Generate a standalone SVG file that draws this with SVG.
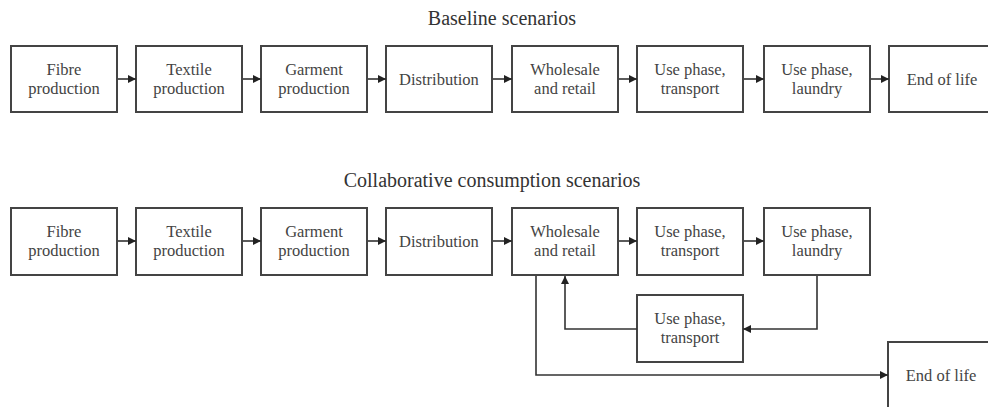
<svg xmlns="http://www.w3.org/2000/svg" width="988" height="407" viewBox="0 0 988 407">
<style>
.box{fill:#fff;stroke:#444;stroke-width:2}
.t{font-family:"Liberation Serif","Times New Roman",serif;font-size:16.5px;fill:#444;text-anchor:middle}
.title{font-family:"Liberation Serif","Times New Roman",serif;font-size:20px;fill:#333;text-anchor:middle}
.c{fill:none;stroke:#333;stroke-width:1.6}
</style>
<defs>
<marker id="ah" markerUnits="userSpaceOnUse" markerWidth="9" markerHeight="8" refX="8" refY="4" orient="auto">
<path d="M0,0 L8,4 L0,8 Z" fill="#222"/>
</marker>
</defs>
<rect width="988" height="407" fill="#fff"/>
<text class="title" x="502" y="25">Baseline scenarios</text>
<text class="title" x="492" y="187">Collaborative consumption scenarios</text>

<g id="b-fibre"><rect class="box" x="11" y="46" width="106" height="66"/><text class="t" x="64" y="75">Fibre</text><text class="t" x="64" y="94">production</text></g>
<g id="b-textile"><rect class="box" x="136" y="46" width="106" height="66"/><text class="t" x="189" y="75">Textile</text><text class="t" x="189" y="94">production</text></g>
<g id="b-garment"><rect class="box" x="261" y="46" width="106" height="66"/><text class="t" x="314" y="75">Garment</text><text class="t" x="314" y="94">production</text></g>
<g id="b-distribution"><rect class="box" x="386" y="46" width="106" height="66"/><text class="t" x="439" y="85">Distribution</text></g>
<g id="b-wholesale"><rect class="box" x="512" y="46" width="106" height="66"/><text class="t" x="565" y="75">Wholesale</text><text class="t" x="565" y="94">and retail</text></g>
<g id="b-transport"><rect class="box" x="637" y="46" width="106" height="66"/><text class="t" x="690" y="75">Use phase,</text><text class="t" x="690" y="94">transport</text></g>
<g id="b-laundry"><rect class="box" x="764" y="46" width="106" height="66"/><text class="t" x="817" y="75">Use phase,</text><text class="t" x="817" y="94">laundry</text></g>
<g id="b-eol"><rect class="box" x="889" y="46" width="106" height="66"/><text class="t" x="942" y="85">End of life</text></g>

<g id="c-fibre"><rect class="box" x="11" y="208" width="106" height="67"/><text class="t" x="64" y="237">Fibre</text><text class="t" x="64" y="256">production</text></g>
<g id="c-textile"><rect class="box" x="136" y="208" width="106" height="67"/><text class="t" x="189" y="237">Textile</text><text class="t" x="189" y="256">production</text></g>
<g id="c-garment"><rect class="box" x="261" y="208" width="106" height="67"/><text class="t" x="314" y="237">Garment</text><text class="t" x="314" y="256">production</text></g>
<g id="c-distribution"><rect class="box" x="386" y="208" width="106" height="67"/><text class="t" x="439" y="247">Distribution</text></g>
<g id="c-wholesale"><rect class="box" x="512" y="208" width="106" height="67"/><text class="t" x="565" y="237">Wholesale</text><text class="t" x="565" y="256">and retail</text></g>
<g id="c-transport"><rect class="box" x="637" y="208" width="106" height="67"/><text class="t" x="690" y="237">Use phase,</text><text class="t" x="690" y="256">transport</text></g>
<g id="c-laundry"><rect class="box" x="764" y="208" width="106" height="67"/><text class="t" x="817" y="237">Use phase,</text><text class="t" x="817" y="256">laundry</text></g>
<g id="c-transport2"><rect class="box" x="637" y="295" width="106" height="67"/><text class="t" x="690" y="324">Use phase,</text><text class="t" x="690" y="343">transport</text></g>
<g id="c-eol"><rect class="box" x="888" y="342" width="106" height="67"/><text class="t" x="941" y="381">End of life</text></g>

<g id="connectors">
<line class="c" x1="118" y1="79" x2="136" y2="79" marker-end="url(#ah)"/>
<line class="c" x1="243" y1="79" x2="261" y2="79" marker-end="url(#ah)"/>
<line class="c" x1="368" y1="79" x2="386" y2="79" marker-end="url(#ah)"/>
<line class="c" x1="493" y1="79" x2="512" y2="79" marker-end="url(#ah)"/>
<line class="c" x1="619" y1="79" x2="637" y2="79" marker-end="url(#ah)"/>
<line class="c" x1="744" y1="79" x2="764" y2="79" marker-end="url(#ah)"/>
<line class="c" x1="871" y1="79" x2="889" y2="79" marker-end="url(#ah)"/>

<line class="c" x1="118" y1="241" x2="136" y2="241" marker-end="url(#ah)"/>
<line class="c" x1="243" y1="241" x2="261" y2="241" marker-end="url(#ah)"/>
<line class="c" x1="368" y1="241" x2="386" y2="241" marker-end="url(#ah)"/>
<line class="c" x1="493" y1="241" x2="512" y2="241" marker-end="url(#ah)"/>
<line class="c" x1="619" y1="241" x2="637" y2="241" marker-end="url(#ah)"/>
<line class="c" x1="744" y1="241" x2="764" y2="241" marker-end="url(#ah)"/>

<polyline class="c" points="817,276 817,329 743,329" marker-end="url(#ah)"/>
<polyline class="c" points="637,329 565,329 565,276" marker-end="url(#ah)"/>
<polyline class="c" points="536,276 536,375 888,375" marker-end="url(#ah)"/>
</g>
</svg>
